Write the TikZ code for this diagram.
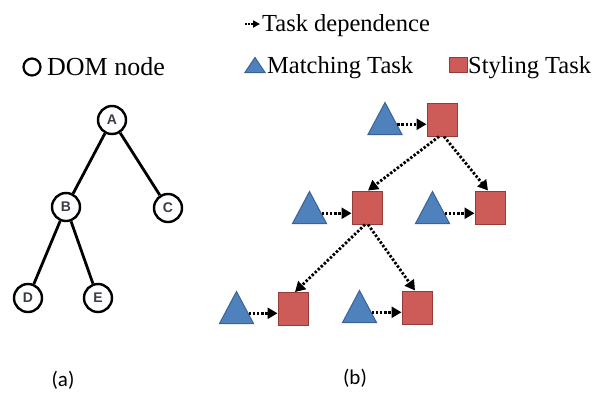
\documentclass[tikz,border=0pt]{standalone}
\usepackage{fontspec}
\setmainfont{Liberation Serif}
\newfontfamily\capfont{Carlito}
\newfontfamily\letterfont{Liberation Sans}
\usetikzlibrary{shapes.geometric,arrows.meta}
\definecolor{triblue}{RGB}{79,129,189}
\definecolor{triedge}{RGB}{58,98,150}
\definecolor{sqred}{RGB}{205,92,88}
\definecolor{sqedge}{RGB}{150,58,55}
\definecolor{lettergray}{RGB}{55,60,75}
\begin{document}
\begin{tikzpicture}[x=1pt,y=-1pt,
 dom/.style={circle,draw,line width=2.4pt,minimum size=28pt,inner sep=0pt,font=\letterfont\bfseries\fontsize{14}{14}\selectfont,text=lettergray},
 treeedge/.style={line width=2.8pt},
 mtask/.style={isosceles triangle,isosceles triangle stretches,shape border rotate=90,fill=triblue,draw=triedge,line width=1pt,minimum width=34pt,minimum height=32pt,inner sep=0pt},
 stask/.style={rectangle,fill=sqred,draw=sqedge,line width=1pt,minimum width=30pt,minimum height=33pt,inner sep=0pt},
 dep/.style={line width=2.8pt,dash pattern=on 2.4pt off 1.8pt,-{Triangle[length=10pt,width=11pt]}},
 deplegend/.style={line width=1.8pt,dash pattern=on 1.8pt off 1.4pt,-{Triangle[length=7pt,width=7pt]}},
 lbl/.style={font=\fontsize{24.5}{24.5}\selectfont,inner sep=0pt,anchor=base west},
 capt/.style={font=\capfont\fontsize{21}{21}\selectfont,inner sep=0pt}
]
\useasboundingbox (0,0) rectangle (603,392);
% (a) DOM tree
\node[circle,draw,line width=2.2pt,minimum size=17pt,inner sep=0pt] (legcirc) at (32,67) {};
\node[lbl,font=\fontsize{26}{26}\selectfont] (domlbl) at (47,75) {DOM node};
\node[dom] (A) at (112,120) {A};
\node[dom] (B) at (66,207) {B};
\node[dom] (C) at (168,208) {C};
\node[dom] (D) at (28,298) {D};
\node[dom] (E) at (98,298) {E};
\draw[treeedge] (A) -- (B);
\draw[treeedge] (A) -- (C);
\draw[treeedge] (B) -- (D);
\draw[treeedge] (B) -- (E);
% legend (b)
\coordinate (legarrow) at (245,24);
\node[lbl] (deplbl) at (262,31.5) {Task dependence};
\draw[deplegend,shorten >=2pt] (legarrow) -- (legarrow -| deplbl.west);
\node[mtask,minimum width=20pt,minimum height=15pt,anchor=south] (legtri) at (255,73) {};
\node[lbl] (mlbl) at (267,73) {Matching Task};
\node[stask,minimum width=18pt,minimum height=15pt,anchor=south] (legsq) at (458,73) {};
\node[lbl] (slbl) at (468,73) {Styling Task};
% (b) tasks
\node[mtask,anchor=south] (t1) at (385,135) {};
\node[stask] (s1) at (442,119.5) {};
\node[mtask,anchor=south] (t2) at (309.5,224) {};
\node[stask] (s2) at (367,207.5) {};
\node[mtask,anchor=south] (t3) at (432.5,224) {};
\node[stask] (s3) at (490,207.5) {};
\node[mtask,anchor=south] (t4) at (236.5,324) {};
\node[stask] (s4) at (293,309) {};
\node[mtask,anchor=south] (t5) at (359.5,323) {};
\node[stask] (s5) at (417,307.5) {};
\draw[dep] (t1.east) -- (t1.east -| s1.west);
\draw[dep] (t2.east) -- (t2.east -| s2.west);
\draw[dep] (t3.east) -- (t3.east -| s3.west);
\draw[dep] (t4.east) -- (t4.east -| s4.west);
\draw[dep] (t5.east) -- (t5.east -| s5.west);
\draw[dep] ([xshift=-3pt]s1.south) -- ([xshift=1pt]s2.north);
\draw[dep] ([xshift=2pt]s1.south) -- ([xshift=-2pt]s3.north);
\draw[dep] ([xshift=-2pt]s2.south) -- ([xshift=2pt]s4.north);
\draw[dep] ([xshift=1pt]s2.south) -- ([xshift=-2pt]s5.north);
% captions
\node[capt] (capa) at (63,380) {(a)};
\node[capt] (capb) at (355,378) {(b)};
\end{tikzpicture}
\end{document}
